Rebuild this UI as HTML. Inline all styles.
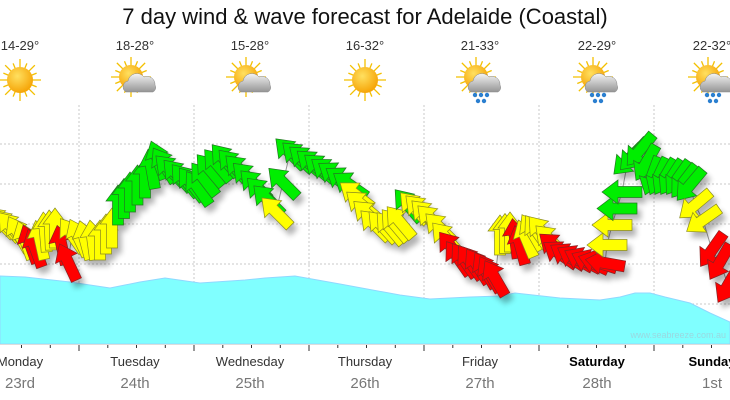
<!DOCTYPE html>
<html><head><meta charset="utf-8"><style>
body{margin:0;background:#fff;width:730px;height:400px;overflow:hidden;font-family:"Liberation Sans",sans-serif}
svg{display:block}
</style></head><body>
<svg id="s" width="730" height="400" xmlns="http://www.w3.org/2000/svg" font-family="Liberation Sans, sans-serif">
<defs>
<radialGradient id="sun" cx="40%" cy="35%" r="70%"><stop offset="0" stop-color="#ffe060"/><stop offset="1" stop-color="#f5a000"/></radialGradient>
<linearGradient id="cl" x1="0" y1="0" x2="0" y2="1"><stop offset="0" stop-color="#f4f4f4"/><stop offset="1" stop-color="#959595"/></linearGradient>
<filter id="sh" x="-50%" y="-50%" width="200%" height="200%"><feGaussianBlur stdDeviation="3"/></filter>
</defs>
<text x="365" y="24" text-anchor="middle" font-size="22" fill="#111">7 day wind &amp; wave forecast for Adelaide (Coastal)</text>
<g id="grid" stroke="#c8c8c8" stroke-dasharray="2,2" stroke-width="1"></g>
<path id="wave" fill="#80ffff" stroke="#8fd8ff" stroke-width="1"></path>
<text x="726" y="338" text-anchor="end" font-size="9" fill="#9ad8e0">www.seabreeze.com.au</text>
<g id="ticks" stroke="#333" stroke-width="1"></g>
<g id="top"></g>
<polyline id="trk" fill="none" stroke="#999" stroke-width="1"></polyline>
<g id="shad" filter="url(#sh)" opacity="0.3"></g>
<g id="arr"></g>
<g id="lab" text-anchor="middle"></g>
</svg>
<script>
var NS="http://www.w3.org/2000/svg";
function el(p,t,a,txt){var e=document.createElementNS(NS,t);for(var k in a)e.setAttribute(k,a[k]);if(txt)e.textContent=txt;document.getElementById(p).appendChild(e);return e;}
[144,184,224,264,304].forEach(function(y){el('grid','line',{x1:0,x2:730,y1:y,y2:y});});
var mids=[79,194,309,424,539,654];
mids.forEach(function(x){el('grid','line',{x1:x,x2:x,y1:105,y2:344});});
for(var x=79-115*0.75;x<=730;x+=115/4){var maj=mids.some(function(m){return Math.abs(m-x)<1});el('ticks','line',{x1:x.toFixed(1),x2:x.toFixed(1),y1:344,y2:maj?351:348});}
el('ticks','line',{x1:0,x2:730,y1:344.5,y2:344.5,stroke:'#ddd'});
var wp=[[0,276],[25,277],[70,282],[110,288],[140,282],[165,278],[200,283],[245,280],[265,278],[295,276],[340,284],[400,295],[430,299],[470,297],[500,296],[515,293],[560,298],[600,300],[620,297],[635,293],[650,293],[665,297],[690,303],[710,313],[730,322]];
var d="M0,344 ";wp.forEach(function(p){d+="L"+p[0]+","+p[1]+" ";});d+="L730,344 Z";
document.getElementById('wave').setAttribute('d',d);
var days=[["Monday","23rd",20,0],["Tuesday","24th",135,0],["Wednesday","25th",250,0],["Thursday","26th",365,0],["Friday","27th",480,0],["Saturday","28th",597,1],["Sunday","1st",712,1]];
var temps=["14-29°","18-28°","15-28°","16-32°","21-33°","22-29°","22-32°"];
var icons=[0,1,1,0,2,2,2];
days.forEach(function(dd,i){
 el('lab','text',{x:dd[2],y:366,'font-size':13,fill:dd[3]?'#000':'#333','font-weight':dd[3]?'bold':'normal'},dd[0]);
 el('lab','text',{x:dd[2],y:388,'font-size':15,fill:'#777'},dd[1]);
 el('lab','text',{x:dd[2],y:50,'font-size':13,fill:'#333'},temps[i]);
 var cx=dd[2],cy=80,g=el('top','g',{});
 var sx=icons[i]?cx-4:cx,sy=icons[i]?cy-3:cy,r=icons[i]?12:13;
 for(var a=0;a<16;a++){var an=a*Math.PI/8,l=(a%2?r+5:r+8);var ln=document.createElementNS(NS,'line');ln.setAttribute('x1',sx);ln.setAttribute('y1',sy);ln.setAttribute('x2',sx+l*Math.cos(an));ln.setAttribute('y2',sy+l*Math.sin(an));ln.setAttribute('stroke','#f3c000');ln.setAttribute('stroke-width',1.3);g.appendChild(ln);}
 var c=document.createElementNS(NS,'circle');c.setAttribute('cx',sx);c.setAttribute('cy',sy);c.setAttribute('r',r);c.setAttribute('fill','url(#sun)');g.appendChild(c);
 if(icons[i]){var p=document.createElementNS(NS,'path');var bx=cx-9,by=cy+12;
  p.setAttribute('d','M'+bx+','+by+' a6,6 0 0,1 2,-11 a9,9 0 0,1 16,-4 a8,8 0 0,1 11,8 a5,5 0 0,1 -2,7 Z');p.setAttribute('fill','url(#cl)');p.setAttribute('stroke','#888');p.setAttribute('stroke-width','0.5');g.appendChild(p);
  if(icons[i]==2){[[cx-5,cy+15],[cx+1,cy+15],[cx+7,cy+15],[cx-2,cy+21],[cx+4,cy+21]].forEach(function(q){var dr=document.createElementNS(NS,'circle');dr.setAttribute('cx',q[0]);dr.setAttribute('cy',q[1]);dr.setAttribute('r',2.2);dr.setAttribute('fill','#2a7fd0');g.appendChild(dr);});}
 }
});
var K=[[0,222,-45,1],[12,228,-40,1],[25,240,-20,1],[35,248,-20,2],[45,232,-5,1],[55,228,0,1],[68,262,-25,2],[72,235,-35,1],[85,240,-15,1],[100,240,0,1],[112,228,0,1],[118,205,0,0],[130,192,0,0],[145,178,0,0],[158,160,-20,0],[170,170,-45,0],[185,180,-40,0],[198,188,-35,0],[210,170,-40,0],[225,160,-40,0],[240,170,-45,0],[255,185,-45,0],[268,200,-45,0],[276,212,-45,1],[290,153,-45,0],[305,160,-50,0],[320,168,-50,0],[335,175,-55,0],[350,185,-55,0],[362,205,-50,1],[375,225,-45,1],[390,228,-40,1],[400,222,-40,1],[408,205,-40,0],[420,210,-45,1],[432,220,-45,1],[440,228,-45,1],[458,258,-35,2],[470,262,-35,2],[485,270,-30,2],[495,278,-30,2],[500,235,0,1],[510,232,0,1],[520,245,-15,2],[532,232,-30,1],[542,232,-40,1],[550,240,-45,1],[560,254,-55,2],[575,258,-60,2],[590,262,-65,2],[605,263,-80,2],[607,245,-90,1],[612,225,-90,1],[622,192,-90,0],[628,160,-135,0],[640,150,-140,0],[652,176,-160,0],[665,177,-150,0],[678,178,-145,0],[690,185,-140,0],[695,205,-130,1],[703,220,-125,1],[712,250,-145,2],[720,262,-150,2],[728,285,-150,2],[735,300,-150,2]];
var pts=[],cols=["#00ee00","#ffff00","#ff0000"],strk=["#227722","#8a8a20","#882222"];
for(var i=0;i<K.length-1;i++){var a=K[i],b=K[i+1];var n=Math.max(1,Math.round((b[0]-a[0])/6.5));for(var j=0;j<n;j++){var t=j/n;pts.push([a[0]+(b[0]-a[0])*t,a[1]+(b[1]-a[1])*t,a[2]+(b[2]-a[2])*t,t<0.5?a[3]:b[3]]);}}
document.getElementById('trk').setAttribute('points',pts.map(function(p){return p[0].toFixed(1)+","+p[1].toFixed(1)}).join(" "));
var shape="M0,-20 L12,-4 L5.5,-4 L5.5,20 L-5.5,20 L-5.5,-4 L-12,-4 Z";
pts.forEach(function(p){
 el('shad','path',{d:shape,fill:'#000',transform:'translate('+(p[0]+4).toFixed(1)+','+(p[1]+6).toFixed(1)+') rotate('+p[2].toFixed(1)+')'});
});
pts.forEach(function(p){
 el('arr','path',{d:shape,fill:cols[p[3]],stroke:strk[p[3]],'stroke-width':0.7,transform:'translate('+p[0].toFixed(1)+','+p[1].toFixed(1)+') rotate('+p[2].toFixed(1)+')'});
});
</script>
</body></html>
